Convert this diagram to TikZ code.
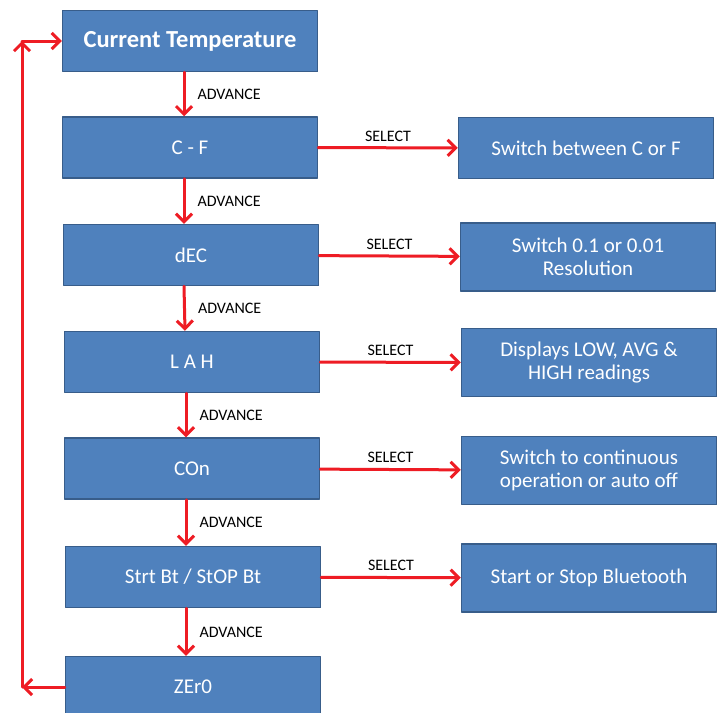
\documentclass[tikz,border=0pt]{standalone}
\usepackage{fontspec}
\setmainfont{Carlito}
\usepackage{tikz}
\usetikzlibrary{arrows.meta}
\definecolor{tfowbd}{rgb}{0.31,0.506,0.741}
\definecolor{rozdoa}{rgb}{0.22,0.365,0.541}
\definecolor{eewcet}{rgb}{0.933,0.11,0.141}
\tikzset{
  box/.style={draw=rozdoa,line width=1.5pt,fill=tfowbd,text=white,minimum width=255pt,minimum height=61pt,inner sep=2pt,align=center,font=\fontsize{21}{23}\selectfont},
  tallbox/.style={box,minimum height=68pt},
  link/.style={draw=eewcet,line width=3pt,->},
  lbl/.style={text=black,font=\fontsize{16}{18}\selectfont,inner sep=5pt},
  advlbl/.style={lbl,right,xshift=7pt}
}
\begin{document}
\begin{tikzpicture}[line cap=round,line join=round,>={Straight Barb[length=8pt,width=16pt]},x=1pt,y=-1pt]
\clip(0,0) rectangle (722,712);
\fill[white] (0,0) rectangle (722,712);
% left column
\node[box,font=\fontsize{24.5}{26}\selectfont\bfseries] (ct) at (190,41) {Current Temperature};
\node[box] (cf) at (190,147.5) {C - F};
\node[box] (dec) at (191,255) {dEC};
\node[box] (lah) at (192,362) {L A H};
\node[box] (con) at (192,468.5) {COn};
\node[box] (strt) at (193,577) {Strt Bt / StOP Bt};
\node[box] (zero) at (193,687) {ZEr0};
% right column
\node[box] (cfsel) at (586,148) {Switch between C or F};
\node[tallbox] (decsel) at (588,257) {Switch 0.1 or 0.01\\Resolution};
\node[tallbox] (lahsel) at (589,362.5) {Displays LOW, AVG \&\\HIGH readings};
\node[tallbox] (consel) at (589,470.5) {Switch to continuous\\operation or auto off};
\node[tallbox] (strtsel) at (589,578) {Start or Stop Bluetooth};
% advance
\draw[link] ([xshift=-6pt]ct.south) -- node[advlbl] {ADVANCE} ([xshift=-6pt]cf.north);
\draw[link] ([xshift=-6pt]cf.south) -- node[advlbl] {ADVANCE} ([xshift=-7pt]dec.north);
\draw[link] ([xshift=-7pt]dec.south) -- node[advlbl] {ADVANCE} ([xshift=-7pt]lah.north);
\draw[link] ([xshift=-6pt]lah.south) -- node[advlbl] {ADVANCE} ([xshift=-6pt]con.north);
\draw[link] ([xshift=-6pt]con.south) -- node[advlbl] {ADVANCE} ([xshift=-7pt]strt.north);
\draw[link] ([xshift=-7pt]strt.south) -- node[advlbl] {ADVANCE} ([xshift=-7pt]zero.north);
% select
\draw[link] (cf) -- node[lbl,above] {SELECT} (cfsel);
\draw[link] (dec) -- node[lbl,above] {SELECT} (decsel);
\draw[link] (lah) -- node[lbl,above] {SELECT} (lahsel);
\draw[link] (con) -- node[lbl,above] {SELECT} (consel);
\draw[link] (strt) -- node[lbl,above] {SELECT} (strtsel);
% back to start
\coordinate (lb) at (22,687);
\coordinate (lt) at (22,41);
\draw[link] (zero) -- (lb);
\draw[link] (lb) -- (lt);
\draw[link] (lt) -- (ct);
\end{tikzpicture}
\end{document}
